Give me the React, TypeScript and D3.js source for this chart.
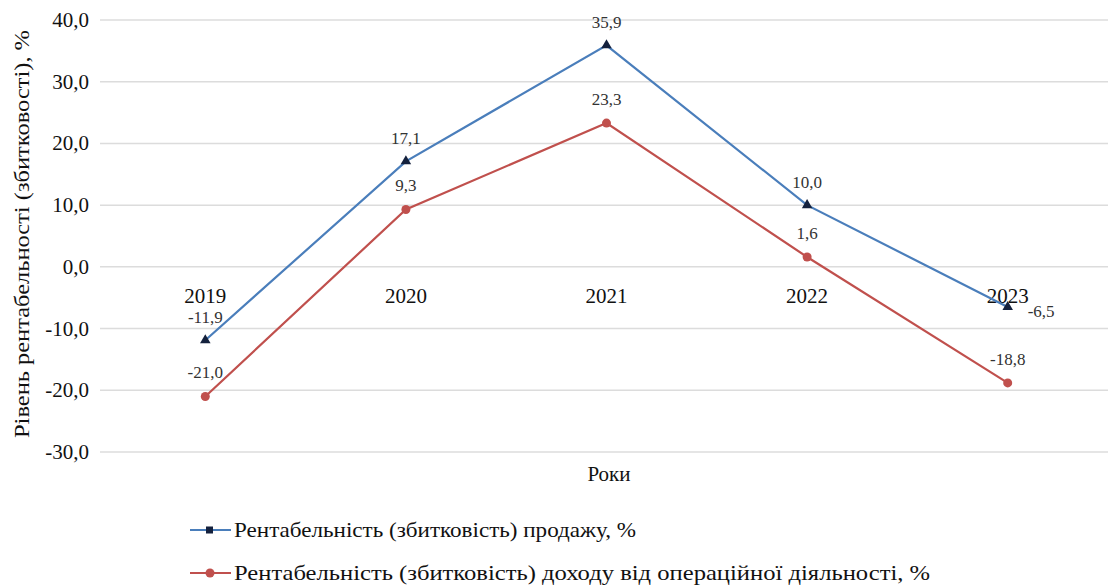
import React from "react";
import * as d3 from "d3";

const years = ["2019", "2020", "2021", "2022", "2023"];
const salesProfitability = [-11.9, 17.1, 35.9, 10.0, -6.5];
const operatingProfitability = [-21.0, 9.3, 23.3, 1.6, -18.8];
const yTicks = [40, 30, 20, 10, 0, -10, -20, -30];

const seriesNames = [
  "Рентабельність (збитковість) продажу, %",
  "Рентабельність (збитковість) доходу  від операційної діяльності, %",
];

const W = 1109;
const H = 587;
const FONT = "Liberation Serif, Tinos, Times New Roman, DejaVu Serif, serif";
const BLUE = "#4a7ebb";
const RED = "#c0504d";
const NAVY = "#14213d";

const fmt = (v: number) => v.toFixed(1).replace(".", ",");

export default function App() {
  const x = d3.scaleBand<string>().domain(years).range([105, 1108]).padding(0);
  const cx = (yr: string) => (x(yr) as number) + x.bandwidth() / 2;
  const y = d3.scaleLinear().domain([-30, 40]).range([452, 20]);

  const line = d3
    .line<number>()
    .x((_, i) => cx(years[i]))
    .y((d) => y(d));

  const tri = d3.symbol().type(d3.symbolTriangle).size(48)();
  const txt = { fontFamily: FONT } as React.CSSProperties;

  return (
    <svg width={W} height={H} style={{ position: "absolute", left: 0, top: 0, background: "#fff" }}>
      {/* gridlines */}
      {yTicks.map((t) => (
        <line key={t} x1={100} x2={1108} y1={y(t)} y2={y(t)} stroke="#dcdcdc" strokeWidth={1.5} />
      ))}
      {/* y tick labels */}
      {yTicks.map((t) => (
        <text key={"l" + t} x={89} y={y(t) + 7} textAnchor="end" style={txt} fontSize={21} fill="#111">
          {fmt(t)}
        </text>
      ))}
      {/* category labels along the zero line */}
      {years.map((yr) => (
        <text key={yr} x={cx(yr)} y={y(0) + 36} textAnchor="middle" style={txt} fontSize={21} fill="#111">
          {yr}
        </text>
      ))}
      {/* y axis title */}
      <text
        transform={`translate(29,${234}) rotate(-90)`}
        textAnchor="middle"
        style={txt}
        fontSize={21}
        fill="#111"
        textLength={408}
        lengthAdjust="spacingAndGlyphs"
      >
        Рівень рентабельності (збитковості), %
      </text>
      {/* x axis title */}
      <text x={609} y={481} textAnchor="middle" style={txt} fontSize={21} fill="#111">
        Роки
      </text>

      {/* series lines */}
      <path d={line(salesProfitability) || ""} fill="none" stroke={BLUE} strokeWidth={2.2} />
      <path d={line(operatingProfitability) || ""} fill="none" stroke={RED} strokeWidth={2.2} />

      {/* markers */}
      {salesProfitability.map((v, i) => (
        <path key={"t" + i} d={tri || ""} transform={`translate(${cx(years[i])},${y(v)})`} fill={NAVY} />
      ))}
      {operatingProfitability.map((v, i) => (
        <circle key={"c" + i} cx={cx(years[i])} cy={y(v)} r={4.5} fill={RED} />
      ))}

      {/* data labels */}
      {salesProfitability.map((v, i) => {
        const last = i === years.length - 1;
        return (
          <text
            key={"bl" + i}
            x={last ? cx(years[i]) + 20 : cx(years[i])}
            y={last ? y(v) + 10 : y(v) - 17}
            textAnchor={last ? "start" : "middle"}
            style={txt}
            fontSize={17}
            fill="#333"
          >
            {fmt(v)}
          </text>
        );
      })}
      {operatingProfitability.map((v, i) => (
        <text
          key={"rl" + i}
          x={cx(years[i])}
          y={y(v) - 18}
          textAnchor="middle"
          style={txt}
          fontSize={17}
          fill="#333"
        >
          {fmt(v)}
        </text>
      ))}

      {/* legend */}
      <g>
        <line x1={190} x2={231} y1={530} y2={530} stroke={BLUE} strokeWidth={2} />
        <rect x={206} y={526.5} width={7} height={7} fill={NAVY} />
        <text x={234} y={537} style={txt} fontSize={22} fill="#111" textLength={402} lengthAdjust="spacingAndGlyphs">
          {seriesNames[0]}
        </text>
        <line x1={190} x2={231} y1={573} y2={573} stroke={RED} strokeWidth={2} />
        <circle cx={210} cy={573} r={4.5} fill={RED} />
        <text x={234} y={580} style={txt} fontSize={22} fill="#111" textLength={696} lengthAdjust="spacingAndGlyphs">
          {seriesNames[1]}
        </text>
      </g>
    </svg>
  );
}
